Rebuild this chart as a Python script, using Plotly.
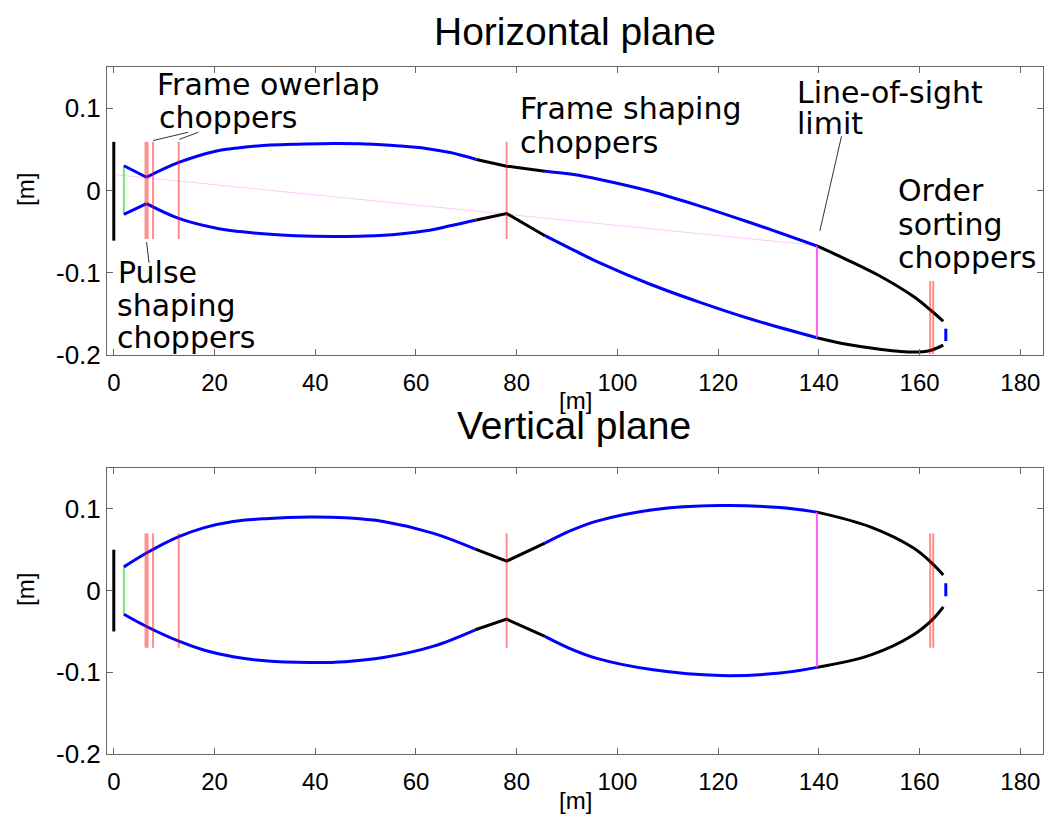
import plotly.graph_objects as go

W, H = 1048, 825
ML, MR, MT, MB = 107, 5, 67, 71

# ---------------- data: Horizontal plane ----------------
h_x = [2.0, 6.5, 12.9, 20.4, 25.0, 30.3, 36.0, 43.5, 50.0, 56.8, 62.0, 66.8, 72.0, 78.0,
       85.6, 91.3, 96.5, 106.5, 116.4, 126.3, 139.6, 145.5, 152.1, 158.8, 162.1, 164.7]
h_up = [0.030, 0.016, 0.034, 0.048, 0.052, 0.055, 0.056, 0.057, 0.0565, 0.054, 0.051, 0.046,
        0.0376, 0.0295, 0.0234, 0.0194, 0.0133, -0.001, -0.019, -0.039, -0.0675, -0.084,
        -0.104, -0.129, -0.145, -0.159]
h_lo = [-0.029, -0.016, -0.034, -0.046, -0.050, -0.053, -0.055, -0.056, -0.0555, -0.053,
        -0.049, -0.043, -0.036, -0.028, -0.055, -0.0725, -0.088, -0.114, -0.136, -0.156,
        -0.179, -0.187, -0.193, -0.1965, -0.1945, -0.188]
# colour segments along the beam: (from x, to x, colour, line shape)
h_seg = [(2.0, 6.5, "blue", "linear"), (6.5, 72.0, "blue", "spline"),
         (72.0, 85.6, "black", "linear"), (85.6, 139.6, "blue", "spline"),
         (139.6, 164.7, "black", "spline")]

# ---------------- data: Vertical plane ----------------
v_x = [2.0, 6.5, 12.9, 18.0, 23.7, 30.0, 39.0, 46.0, 53.5, 63.5, 71.8, 78.0, 85.6, 90.6,
       95.9, 107.1, 120.4, 132.3, 139.6, 150.2, 158.8, 162.8, 164.7]
v_up = [0.029, 0.046, 0.066, 0.077, 0.0845, 0.088, 0.090, 0.089, 0.0845, 0.070, 0.0507,
        0.036, 0.058, 0.073, 0.085, 0.099, 0.104, 0.1016, 0.096, 0.078, 0.052, 0.0315, 0.019]
v_lo = [-0.029, -0.044, -0.062, -0.073, -0.081, -0.086, -0.088, -0.087, -0.082, -0.068,
        -0.048, -0.035, -0.056, -0.071, -0.083, -0.097, -0.104, -0.101, -0.094, -0.079,
        -0.054, -0.034, -0.020]
v_seg = [(2.0, 71.8, "blue", "spline"), (71.8, 85.6, "black", "linear"),
         (85.6, 139.6, "blue", "spline"), (139.6, 164.7, "black", "spline")]

# choppers
chop_x = [6.3, 6.7, 7.8, 12.9, 78.0, 162.1, 162.7]
chop_h_lo = [-0.059, -0.059, -0.059, -0.059, -0.059, -0.199, -0.199]
chop_h_hi = [0.059, 0.059, 0.059, 0.059, 0.059, -0.110, -0.110]
chop_v_lo = [-0.070] * 7
chop_v_hi = [0.070] * 7

# source, guide, line-of-sight, detector
src_x = 0.0
src_h = (-0.061, 0.059)
src_v = (-0.050, 0.050)
guide_x = 2.0
guide_h = (-0.029, 0.030)
guide_v = (-0.029, 0.029)
los_x = 139.6
los_h = (-0.179, -0.0675)
los_v = (-0.094, 0.096)
los_line_x = [0.55, 139.6]
los_line_y = [0.019, -0.067]
det_x = 165.2
det_h = (-0.183, -0.168)
det_v = (-0.007, 0.009)

# leader lines for the labels (top panel)
lead_x = [[7.8, 14.8], [13.0, 16.8], [6.5, 7.0], [144.5, 140.2]]
lead_y = [[0.0606, 0.0707], [0.062, 0.0707], [-0.0627, -0.088], [0.066, -0.049]]

x_ticks = [0, 20, 40, 60, 80, 100, 120, 140, 160, 180]
y_ticks = [-0.2, -0.1, 0, 0.1]
y_tick_text = ["-0.2", "-0.1", "0", "0.1"]

# label text (each line separate), with pixel anchor (left, middle)
labels = [
    ("Frame owerlap", 155, 85), ("choppers", 157, 117),
    ("Pulse", 116, 272), ("shaping", 115, 305), ("choppers", 115, 338),
    ("Frame shaping", 518, 108), ("choppers", 518, 142),
    ("Line-of-sight", 795, 92), ("limit", 795, 124),
    ("Order", 896, 190), ("sorting", 896, 224), ("choppers", 896, 257),
]

# ---------------- figure ----------------
fig = go.Figure()
PW = W - ML - MR
PH = H - MT - MB


def px2paper(px, py):
    return (px - ML) / PW, (H - MB - py) / PH


top_dom = [(H - MB - 355) / PH, 1.0]
bot_dom = [0.0, (H - MB - 468) / PH]


def vline(x, y0, y1, color, width, xa, ya):
    fig.add_trace(go.Scatter(x=[x, x], y=[y0, y1], mode="lines",
                             line=dict(color=color, width=width),
                             xaxis=xa, yaxis=ya, hoverinfo="skip"))


def envelope(xs, curves, segs, xa, ya):
    for ys in curves:
        for x0, x1, col, shape in segs:
            idx = [i for i, v in enumerate(xs) if x0 <= v <= x1]
            fig.add_trace(go.Scatter(x=[xs[i] for i in idx], y=[ys[i] for i in idx],
                                     mode="lines",
                                     line=dict(color=col, width=3, shape=shape,
                                               smoothing=1.0 if shape == "spline" else None),
                                     xaxis=xa, yaxis=ya, hoverinfo="skip"))


RED = "rgba(255,0,0,0.45)"
MAG = "rgba(255,60,255,0.85)"
GREEN = "rgba(80,230,80,0.8)"

# ---- top (Horizontal) ----
fig.add_trace(go.Scatter(x=los_line_x, y=los_line_y, mode="lines",
                         line=dict(color="rgba(255,0,255,0.22)", width=1),
                         xaxis="x", yaxis="y", hoverinfo="skip"))
vline(src_x, *src_h, "black", 3, "x", "y")
vline(guide_x, *guide_h, GREEN, 2, "x", "y")
envelope(h_x, [h_up, h_lo], h_seg, "x", "y")
for cx, a, b in zip(chop_x, chop_h_lo, chop_h_hi):
    vline(cx, a, b, RED, 2, "x", "y")
vline(los_x, *los_h, MAG, 2, "x", "y")
vline(det_x, *det_h, "blue", 3, "x", "y")
for lx, ly in zip(lead_x, lead_y):
    fig.add_trace(go.Scatter(x=lx, y=ly, mode="lines", line=dict(color="#333333", width=1),
                             xaxis="x", yaxis="y", hoverinfo="skip"))

# ---- bottom (Vertical) ----
vline(src_x, *src_v, "black", 3, "x2", "y2")
vline(guide_x, *guide_v, GREEN, 2, "x2", "y2")
envelope(v_x, [v_up, v_lo], v_seg, "x2", "y2")
for cx, a, b in zip(chop_x, chop_v_lo, chop_v_hi):
    vline(cx, a, b, RED, 2, "x2", "y2")
vline(los_x, *los_v, MAG, 2, "x2", "y2")
vline(det_x, *det_v, "blue", 3, "x2", "y2")

tickfont = dict(family="Liberation Sans, Arial, sans-serif", size=24, color="black")
axis_common = dict(range=[-1.35, 184.5], tickvals=x_ticks, ticks="inside", ticklen=6,
                   tickcolor="#666666", showline=True, linecolor="#666666", linewidth=1,
                   mirror="ticks", showgrid=False, zeroline=False, tickfont=tickfont,
                   ticklabelstandoff=6, automargin=False)
yaxis_common = dict(range=[-0.2, 0.15], tickvals=y_ticks, ticktext=y_tick_text, ticks="inside",
                    ticklen=6, tickcolor="#666666", showline=True, linecolor="#666666",
                    linewidth=1, mirror="ticks", showgrid=False, zeroline=False, automargin=False,
                    tickfont=dict(family="Liberation Sans, Arial, sans-serif", size=26, color="black"))

fig.update_layout(
    width=W, height=H, margin=dict(l=ML, r=MR, t=MT, b=MB, autoexpand=False),
    paper_bgcolor="white", plot_bgcolor="white", showlegend=False,
    xaxis=dict(**axis_common, domain=[0, 1], anchor="y"),
    yaxis=dict(**yaxis_common, domain=top_dom, anchor="x"),
    xaxis2=dict(**axis_common, domain=[0, 1], anchor="y2"),
    yaxis2=dict(**yaxis_common, domain=bot_dom, anchor="x2"),
)

ann = []
lab_font = dict(family="DejaVu Sans, Liberation Sans, sans-serif", size=30, color="black")
for txt, px, py in labels:
    xp, yp = px2paper(px, py)
    ann.append(dict(text=txt, x=xp, y=yp, xref="paper", yref="paper", xanchor="left",
                    yanchor="middle", showarrow=False, font=lab_font))

title_font = dict(family="Liberation Sans, Arial, sans-serif", size=39, color="black")
for txt, px, py in [("Horizontal plane", 575, 31), ("Vertical plane", 574, 425)]:
    xp, yp = px2paper(px, py)
    ann.append(dict(text=txt, x=xp, y=yp, xref="paper", yref="paper", xanchor="center",
                    yanchor="middle", showarrow=False, font=title_font))

m_font = dict(family="Liberation Sans, Arial, sans-serif", size=24, color="black")
for px, py, ang in [(575, 400, 0), (575, 800, 0), (25, 190, -90), (25, 590, -90)]:
    xp, yp = px2paper(px, py)
    ann.append(dict(text="[m]", x=xp, y=yp, xref="paper", yref="paper", xanchor="center",
                    yanchor="middle", showarrow=False, font=m_font, textangle=ang))

fig.update_layout(annotations=ann)
fig.write_html("out.html", config={"displayModeBar": False},
               post_script="document.body.style.margin='0';document.body.style.overflow='hidden';")
